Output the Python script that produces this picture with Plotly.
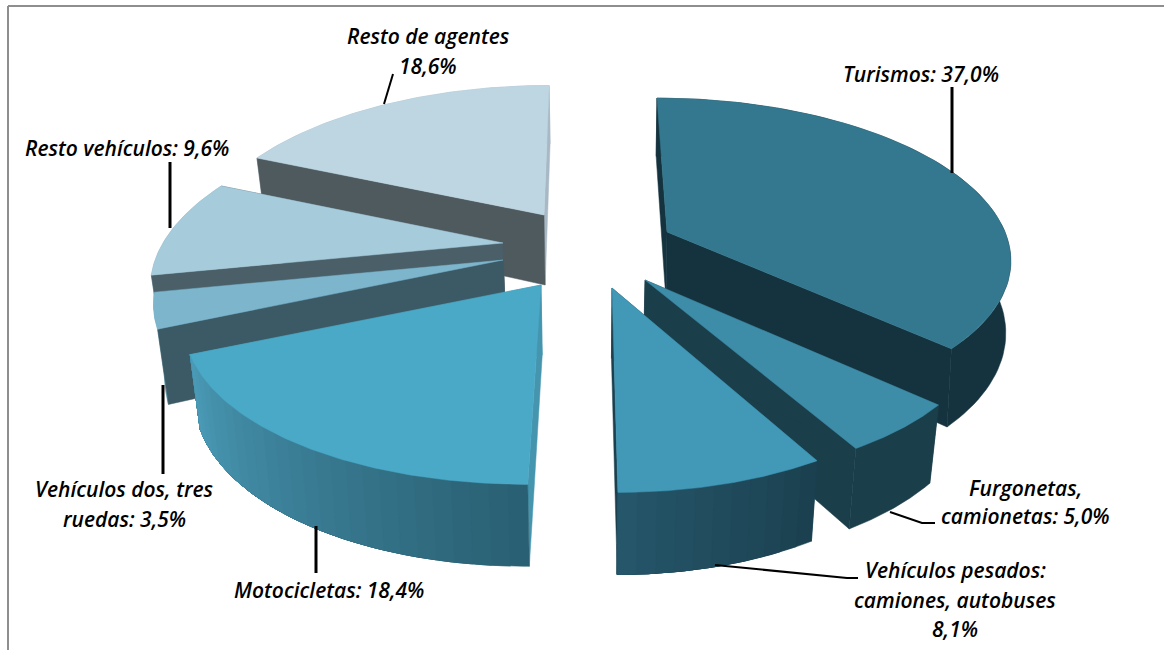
import numpy as np
import plotly.graph_objects as go

# ---- data ----
categories = ["Turismos", "Furgonetas, camionetas", "Vehículos pesados: camiones, autobuses",
              "Motocicletas", "Vehículos dos, tres ruedas", "Resto vehículos", "Resto de agentes"]
values = [37.0, 5.0, 8.1, 18.4, 3.5, 9.6, 18.6]
value_labels = ["37,0%", "5,0%", "8,1%", "18,4%", "3,5%", "9,6%", "18,6%"]

# ---- styling: pulled-out position and projection of each slice ----
pull_x = [667, 645, 612, 541, 503, 503, 544]
pull_y = [232, 280, 288, 285, 260, 243, 215]
radius_x = [338, 332, 335, 346, 337, 340, 341]
radius_y = [154, 157, 161, 157, 157, 157, 157]
persp = [0.15, 0.2125, 0.2125, 0.2125, 0.2125, 0.2125, 0.2125]
vanish_x = [590, 590, 590, 590, 590, 590, 573]
shrink = [0.012, 0.025, 0.025, 0.025, 0.025, 0.025, 0.025]
top_color = ["#33788F", "#3D8CA8", "#4199B7", "#4AA9C6", "#7DB5CC", "#A6CBDB", "#BDD6E2"]
start_wall = ["#15333F", "#1B3E4B", "#1B4150", "#4595AF", "#3C5A66", "#4A5F68", "#4F5A5F"]
end_wall = ["#15333F", "#1B3E4B", "#1B4150", "#4595AF", "#3C5A66", "#4A5F68", "#A8B8C4"]
outer_from = ["#15333F", "#1B3E4B", "#1B4150", "#2A6073", "#6EA6BC", "#8FB4C4", "#A8B8C4"]
outer_to = ["#15333F", "#1B3E4B", "#25566A", "#4A9AB6", "#6EA6BC", "#8FB4C4", "#A8B8C4"]
outer_first = [False, False, False, False, True, True, True]
draw_order = [6, 5, 4, 0, 1, 2, 3]
HEIGHT = 70
HEIGHT_GROW = 12


def hx(c):
    return np.array([int(c[i:i + 2], 16) for i in (1, 3, 5)], float)


def mix(a, b, t):
    v = hx(a) * (1 - t) + hx(b) * t
    return "rgb(%d,%d,%d)" % tuple(v)


def top_point(i, theta):
    X, Y = np.sin(theta), -np.cos(theta)
    s = 1 / (1 - persp[i] * Y)
    x = pull_x[i] + radius_x[i] * X * s + (pull_x[i] - vanish_x[i]) * (s - 1)
    y = pull_y[i] + radius_y[i] * Y * s
    return x, y


def drop(i, x, y, theta):
    Y = -np.cos(theta)
    return x - (x - 590) * shrink[i], y + HEIGHT + HEIGHT_GROW * Y


fig = go.Figure()


def poly(xs, ys, color):
    fig.add_trace(go.Scatter(x=list(xs), y=list(ys), mode="lines", fill="toself", fillcolor=color,
                             line=dict(color=color, width=0.5), hoverinfo="skip", showlegend=False))


def outer_wall(i, a, b):
    same = outer_from[i] == outer_to[i]
    n = 1 if same else max(4, int((b - a) / np.radians(2.5)))
    starts = np.linspace(a, b, n + 1)[:-1]
    for k, t0 in enumerate(starts):
        # every band runs on to the end of the arc, so later bands paint over it without seams
        th = np.linspace(t0, b, 80)
        up = [top_point(i, t) for t in th]
        lo = [drop(i, p[0], p[1], t) for p, t in zip(up, th)][::-1]
        pts = up + lo + up[:1]
        poly([p[0] for p in pts], [p[1] for p in pts],
             mix(outer_from[i], outer_to[i], k / max(1, n - 1)))


total = sum(values)
edges = np.cumsum([0] + values) / total * 2 * np.pi

for i in draw_order:
    a, b = edges[i], edges[i + 1]
    cx, cy = pull_x[i], pull_y[i]
    cbx, cby = cx - (cx - 590) * shrink[i], cy + HEIGHT

    if outer_first[i]:
        outer_wall(i, a, b)

    # end radial wall, then start radial wall
    for th, col in ((b, end_wall[i]), (a, start_wall[i])):
        x, y = top_point(i, th)
        xb, yb = drop(i, x, y, th)
        poly([cx, x, xb, cbx, cx], [cy, y, yb, cby, cy], col)

    if not outer_first[i]:
        outer_wall(i, a, b)

    # top face
    th = np.linspace(a, b, 90)
    pts = [top_point(i, t) for t in th]
    poly([cx] + [p[0] for p in pts] + [cx], [cy] + [p[1] for p in pts] + [cy], top_color[i])

# ---- labels ----
label_lines = [
    (["Turismos: " + value_labels[0]], 921, [74]),
    (["Furgonetas,", "camionetas: " + value_labels[1]], 1025, [488, 516]),
    (["Vehículos pesados:", "camiones, autobuses", value_labels[2]], 955, [570, 600, 629]),
    (["Motocicletas: " + value_labels[3]], 329, [590]),
    (["Vehículos dos, tres", "ruedas: " + value_labels[4]], 124, [489, 519]),
    (["Resto vehículos: " + value_labels[5]], 127, [148]),
    (["Resto de agentes", value_labels[6]], 428, [36, 66]),
]
for lines, x, ys in label_lines:
    for t, y in zip(lines, ys):
        fig.add_annotation(x=x, y=y, text=t, showarrow=False, xanchor="center", yanchor="middle",
                           font=dict(family="Open Sans", size=21, color="#000000", style="italic", weight=600))

leaders = [
    ([952, 952], [87, 173], 3),
    ([384, 393], [104, 74], 2),
    ([170, 170], [162, 228], 3),
    ([163, 163], [385, 474], 3),
    ([316, 316], [526, 573], 3),
    ([890, 922, 935], [512, 523, 523], 2),
    ([715, 847, 858], [565, 578, 578], 2),
]
for xs, ys, w in leaders:
    fig.add_trace(go.Scatter(x=xs, y=ys, mode="lines", line=dict(color="#000000", width=w),
                             hoverinfo="skip", showlegend=False))

# frame
fig.add_shape(type="line", x0=8, x1=8, y0=6, y1=650, line=dict(color="#8E8E8E", width=2))
fig.add_shape(type="line", x0=8, x1=1164, y0=6, y1=6, line=dict(color="#8E8E8E", width=2))

fig.update_layout(width=1164, height=650, margin=dict(l=0, r=0, t=0, b=0), showlegend=False,
                  paper_bgcolor="white", plot_bgcolor="white",
                  xaxis=dict(range=[0, 1164], visible=False, fixedrange=True),
                  yaxis=dict(range=[650, 0], visible=False, fixedrange=True))
fig.write_html("out.html", config=dict(displayModeBar=False),
               default_width="1164px", default_height="650px",
               post_script="document.body.style.margin='0';document.documentElement.style.overflow='hidden';")
